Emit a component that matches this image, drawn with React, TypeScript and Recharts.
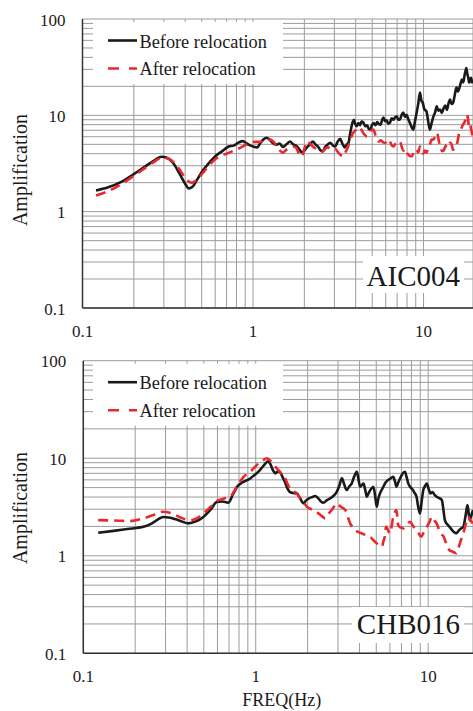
import { LineChart, Line, XAxis, YAxis, CartesianGrid } from 'recharts';

type Pt = [number, number];

// [frequency Hz, amplification]
const aicBefore: Pt[] = [
  [0.12, 1.66], [0.14, 1.78], [0.17, 2.05], [0.2, 2.45], [0.23, 2.9], [0.26, 3.35], [0.29, 3.72],
  [0.31, 3.65], [0.34, 3.2], [0.37, 2.5], [0.4, 1.95], [0.42, 1.74], [0.44, 1.8], [0.47, 2.15],
  [0.51, 2.7], [0.56, 3.3], [0.6, 3.75], [0.66, 4.25], [0.72, 4.75], [0.77, 4.85], [0.82, 5.2],
  [0.87, 5.4], [0.92, 5.1], [0.97, 4.85], [1.02, 4.7], [1.06, 4.65], [1.1, 5.1], [1.15, 5.6],
  [1.2, 5.85], [1.25, 5.6], [1.3, 5.2], [1.37, 4.95], [1.43, 5.1], [1.5, 4.7], [1.57, 5.0],
  [1.65, 5.35], [1.72, 5.0], [1.79, 4.85], [1.86, 4.5], [1.94, 4.1], [2.0, 4.3], [2.08, 4.7],
  [2.16, 5.0], [2.24, 5.35], [2.32, 5.0], [2.4, 4.75], [2.5, 4.3], [2.57, 4.25], [2.65, 4.7],
  [2.73, 4.95], [2.83, 5.2], [2.93, 4.9], [3.03, 4.75], [3.13, 5.3], [3.24, 5.7], [3.34, 5.1],
  [3.45, 4.65], [3.55, 5.0], [3.63, 5.2], [3.72, 6.6], [3.83, 8.4], [3.9, 9.0], [3.98, 8.1],
  [4.06, 7.7], [4.15, 8.3], [4.24, 7.9], [4.33, 8.6], [4.44, 8.4], [4.55, 7.7], [4.67, 7.9],
  [4.78, 7.2], [4.88, 7.1], [4.98, 7.9], [5.1, 8.3], [5.22, 7.9], [5.35, 8.5], [5.47, 8.1],
  [5.6, 8.0], [5.72, 9.0], [5.82, 9.5], [5.95, 8.7], [6.08, 8.9], [6.2, 8.2], [6.35, 8.4],
  [6.5, 9.3], [6.65, 9.0], [6.8, 9.5], [6.97, 9.8], [7.1, 9.0], [7.28, 9.1], [7.45, 10.2],
  [7.6, 10.7], [7.78, 9.6], [7.95, 10.1], [8.1, 9.3], [8.3, 8.4], [8.5, 7.6], [8.7, 7.1],
  [8.9, 8.6], [9.1, 10.6], [9.3, 13.0], [9.53, 17.2], [9.72, 14.2], [9.9, 13.5], [10.1, 11.6],
  [10.4, 11.0], [10.65, 8.6], [10.9, 7.1], [11.15, 8.3], [11.4, 9.6], [11.7, 10.8], [11.95, 12.4],
  [12.2, 11.2], [12.5, 11.5], [12.8, 10.6], [13.1, 11.8], [13.4, 12.6], [13.7, 11.4], [14.0, 13.2],
  [14.3, 14.6], [14.6, 13.1], [14.9, 13.5], [15.2, 15.8], [15.6, 19.5], [15.9, 17.6], [16.2, 19.0],
  [16.5, 21.5], [16.8, 23.5], [17.1, 22.0], [17.4, 26.0], [17.6, 28.5], [17.8, 31.0], [18.05, 27.0],
  [18.3, 24.5], [18.5, 21.9], [18.75, 23.0], [19.0, 24.5], [19.25, 22.0], [19.5, 23.5],
];

const aicAfter: Pt[] = [
  [0.12, 1.47], [0.14, 1.62], [0.17, 1.95], [0.2, 2.35], [0.23, 2.8], [0.26, 3.25], [0.29, 3.6],
  [0.31, 3.6], [0.34, 3.3], [0.37, 2.75], [0.4, 2.25], [0.42, 2.05], [0.44, 2.0], [0.47, 2.15],
  [0.51, 2.55], [0.56, 3.1], [0.6, 3.5], [0.66, 3.85], [0.7, 4.0], [0.76, 4.25], [0.8, 4.4],
  [0.84, 4.6], [0.9, 4.9], [0.96, 5.2], [1.03, 5.3], [1.1, 5.3], [1.17, 5.5], [1.26, 5.6],
  [1.32, 5.3], [1.38, 4.8], [1.44, 4.3], [1.5, 4.1], [1.57, 4.4], [1.65, 4.6], [1.72, 4.75],
  [1.79, 4.6], [1.86, 4.0], [1.93, 3.75], [2.0, 4.5], [2.06, 5.35], [2.13, 5.2], [2.2, 4.9],
  [2.3, 4.6], [2.39, 4.5], [2.48, 4.3], [2.56, 4.2], [2.65, 4.5], [2.74, 4.65], [2.83, 4.55],
  [2.93, 4.4], [3.03, 4.5], [3.13, 4.2], [3.25, 3.9], [3.4, 3.75], [3.5, 4.2], [3.61, 4.75],
  [3.72, 5.6], [3.87, 6.6], [4.0, 7.0], [4.12, 7.5], [4.24, 7.4], [4.36, 6.9], [4.5, 6.3],
  [4.67, 6.05], [4.82, 6.6], [4.95, 7.0], [5.08, 7.1], [5.2, 6.4], [5.33, 5.6], [5.45, 5.35],
  [5.6, 5.5], [5.75, 5.3], [5.88, 5.2], [6.0, 5.2], [6.15, 5.0], [6.32, 5.4], [6.5, 4.9],
  [6.65, 4.75], [6.8, 5.0], [6.97, 5.2], [7.12, 5.4], [7.28, 5.35], [7.45, 4.7], [7.62, 4.3],
  [7.8, 4.5], [7.97, 4.1], [8.15, 3.9], [8.32, 3.8], [8.5, 3.75], [8.7, 4.0], [8.9, 4.4],
  [9.1, 4.4], [9.3, 4.1], [9.53, 4.75], [9.75, 4.3], [9.95, 4.0], [10.15, 4.3], [10.4, 4.1],
  [10.65, 4.6], [10.9, 5.0], [11.15, 5.6], [11.4, 5.6], [11.7, 6.0], [12.0, 6.6], [12.3, 5.4],
  [12.6, 4.6], [12.85, 4.25], [13.1, 4.3], [13.4, 4.7], [13.7, 5.0], [14.0, 4.8], [14.3, 5.2],
  [14.6, 5.0], [14.9, 4.4], [15.2, 4.6], [15.6, 4.8], [15.9, 5.6], [16.2, 6.6], [16.5, 7.0],
  [16.8, 7.6], [17.1, 8.1], [17.4, 8.5], [17.7, 9.2], [18.0, 10.2], [18.25, 9.0], [18.5, 7.7],
  [18.75, 8.2], [19.0, 7.2], [19.25, 6.5], [19.5, 6.05],
];

const chbBefore: Pt[] = [
  [0.122, 1.72], [0.15, 1.8], [0.18, 1.88], [0.223, 1.98], [0.25, 2.15], [0.27, 2.35], [0.291, 2.5],
  [0.32, 2.45], [0.36, 2.3], [0.406, 2.15], [0.45, 2.25], [0.497, 2.5], [0.55, 3.0], [0.594, 3.55],
  [0.64, 3.6], [0.693, 3.5], [0.74, 4.3], [0.78, 5.1], [0.83, 5.6], [0.88, 5.9], [0.93, 6.2],
  [0.98, 6.7], [1.03, 7.2], [1.08, 7.9], [1.13, 8.7], [1.18, 9.3], [1.22, 8.6], [1.26, 7.5],
  [1.3, 7.0], [1.34, 7.3], [1.38, 7.26], [1.42, 6.6], [1.47, 5.8], [1.52, 5.0], [1.58, 4.5],
  [1.65, 4.4], [1.73, 4.36], [1.8, 3.95], [1.89, 3.45], [1.96, 3.7], [2.05, 3.9], [2.13, 4.0],
  [2.21, 4.1], [2.3, 3.9], [2.39, 3.6], [2.47, 3.49], [2.58, 3.7], [2.7, 3.87], [2.82, 4.1],
  [2.95, 4.53], [3.05, 5.2], [3.16, 6.22], [3.26, 5.4], [3.37, 4.72], [3.5, 5.2], [3.6, 5.5],
  [3.7, 6.3], [3.86, 7.26], [3.95, 6.0], [4.03, 5.1], [4.12, 5.3], [4.22, 5.5], [4.32, 4.7],
  [4.41, 4.03], [4.52, 4.4], [4.65, 4.8], [4.81, 5.1], [4.92, 4.2], [5.03, 3.18], [5.15, 3.9],
  [5.3, 4.5], [5.5, 5.1], [5.65, 5.6], [5.86, 5.98], [6.05, 6.2], [6.28, 6.45], [6.42, 5.8],
  [6.55, 5.1], [6.7, 5.6], [6.87, 6.2], [7.05, 6.8], [7.33, 7.26], [7.5, 6.4], [7.65, 5.6],
  [7.85, 5.1], [8.1, 4.8], [8.35, 4.4], [8.56, 4.03], [8.75, 3.2], [8.97, 2.72], [9.15, 3.5],
  [9.37, 4.72], [9.6, 5.2], [9.82, 5.5], [10.05, 4.9], [10.3, 4.36], [10.6, 4.5], [10.9, 4.2],
  [11.2, 4.03], [11.6, 3.9], [12.0, 3.73], [12.25, 3.0], [12.5, 2.32], [12.9, 2.1], [13.3, 1.98],
  [13.7, 1.85], [14.1, 1.75], [14.6, 1.7], [15.0, 1.8], [15.5, 1.9], [16.0, 1.98], [16.5, 2.6],
  [16.9, 3.31], [17.2, 2.7], [17.4, 2.32], [17.8, 2.6], [18.2, 2.94],
];

const chbAfter: Pt[] = [
  [0.122, 2.32], [0.15, 2.3], [0.187, 2.27], [0.22, 2.4], [0.26, 2.65], [0.291, 2.83], [0.33, 2.7],
  [0.37, 2.45], [0.416, 2.32], [0.46, 2.45], [0.497, 2.72], [0.55, 3.2], [0.594, 3.64], [0.65, 3.85],
  [0.71, 4.03], [0.776, 5.1], [0.85, 6.45], [0.93, 7.26], [0.98, 8.0], [1.04, 8.87], [1.1, 9.5],
  [1.16, 9.98], [1.23, 9.2], [1.29, 8.3], [1.35, 7.6], [1.41, 6.9], [1.47, 6.45], [1.52, 5.6],
  [1.58, 4.9], [1.65, 4.6], [1.73, 4.36], [1.81, 3.87], [1.9, 3.5], [1.98, 3.18], [2.1, 3.0],
  [2.2, 2.9], [2.31, 2.72], [2.42, 2.55], [2.53, 2.42], [2.65, 2.7], [2.8, 3.06], [2.95, 3.45],
  [3.1, 3.2], [3.31, 2.94], [3.42, 2.5], [3.53, 2.15], [3.65, 1.95], [3.77, 1.83], [3.95, 1.75],
  [4.1, 1.7], [4.35, 1.63], [4.6, 1.57], [4.8, 1.45], [5.03, 1.34], [5.2, 1.28], [5.4, 1.24],
  [5.5, 1.4], [5.6, 1.57], [5.7, 1.98], [6.0, 1.7], [6.28, 2.51], [6.55, 2.94], [6.7, 2.06],
  [6.9, 1.95], [7.17, 1.91], [7.5, 2.05], [7.85, 2.23], [8.2, 2.0], [8.56, 1.83], [8.8, 1.7],
  [9.1, 1.57], [9.45, 1.75], [9.82, 1.98], [10.15, 2.2], [10.5, 2.51], [10.85, 2.3], [11.2, 2.15],
  [11.5, 1.9], [11.8, 1.7], [12.3, 1.57], [12.8, 1.3], [13.3, 1.14], [13.9, 1.1], [14.6, 1.06],
  [15.0, 1.2], [15.5, 1.45], [16.0, 1.7], [16.5, 2.1], [17.1, 2.51], [17.6, 2.3], [18.2, 2.15],
];

const freqTicks = [0.1, 0.2, 0.3, 0.4, 0.5, 0.6, 0.7, 0.8, 0.9, 1, 2, 3, 4, 5, 6, 7, 8, 9, 10];
const ampTicks = [
  0.1, 0.2, 0.3, 0.4, 0.5, 0.6, 0.7, 0.8, 0.9,
  1, 2, 3, 4, 5, 6, 7, 8, 9,
  10, 20, 30, 40, 50, 60, 70, 80, 90, 100,
];
const freqLabels = [0.1, 1, 10];
const ampLabels = [0.1, 1, 10, 100];
const seriesNames = ['Before relocation', 'After relocation'];

const SERIF = '"Liberation Serif", "Times New Roman", serif';
const INK = '#1a1a1a';
const RED = '#e8282d';
const GRID = '#9c9c9c';
const AXIS = '#333333';
const PAGE_W = 473;

const toRows = (pts: Pt[]) => pts.map(([freq, amp]) => ({ freq, amp }));

function FreqTick({ x, y, payload }: any) {
  if (!freqLabels.includes(payload.value)) return <g />;
  return (
    <text x={x} y={y + 28.5} textAnchor="middle" fontFamily={SERIF} fontSize={17} fill={INK}>
      {payload.value}
    </text>
  );
}

function AmpTick({ x, y, payload }: any) {
  if (!ampLabels.includes(payload.value)) return <g />;
  return (
    <text x={x - 17} y={y + 6.5} textAnchor="end" fontFamily={SERIF} fontSize={17} fill={INK}>
      {payload.value}
    </text>
  );
}

interface PanelProps {
  top: number;
  height: number;
  plotTop: number;
  plotBottom: number;
  plotLeft: number;
  maxFreq: number;
  before: Pt[];
  after: Pt[];
  station: string;
  stationBox: { x: number; y: number; w: number; h: number; baseline: number };
  titleCenter: number;
  xTitle?: string;
}

function Panel(p: PanelProps) {
  return (
    <div style={{ position: 'absolute', left: 0, top: p.top, width: PAGE_W, height: p.height }}>
      <LineChart
        width={PAGE_W}
        height={p.height}
        margin={{ top: p.plotTop, right: 0, bottom: 0, left: 0 }}
      >
        <CartesianGrid stroke={GRID} strokeWidth={1} />
        <XAxis
          dataKey="freq"
          type="number"
          scale="log"
          domain={[0.1, p.maxFreq]}
          allowDataOverflow
          ticks={freqTicks}
          interval={0}
          height={p.height - p.plotBottom}
          tickLine={false}
          tickSize={0}
          tickMargin={0}
          axisLine={{ stroke: AXIS, strokeWidth: 1.5 }}
          tick={FreqTick}
        />
        <YAxis
          type="number"
          scale="log"
          domain={[0.1, 100]}
          allowDataOverflow
          ticks={ampTicks}
          interval={0}
          width={p.plotLeft}
          tickLine={false}
          tickSize={0}
          tickMargin={0}
          axisLine={{ stroke: AXIS, strokeWidth: 1.5 }}
          tick={AmpTick}
        />
        <Line
          data={toRows(p.before)}
          dataKey="amp"
          type="monotone"
          stroke={INK}
          strokeWidth={2.6}
          dot={false}
          isAnimationActive={false}
        />
        <Line
          data={toRows(p.after)}
          dataKey="amp"
          type="monotone"
          stroke={RED}
          strokeWidth={2.6}
          strokeDasharray="10 6"
          dot={false}
          isAnimationActive={false}
        />
      </LineChart>

      {/* legend, station tag and axis titles sit on top of the grid */}
      <svg
        width={PAGE_W}
        height={p.height}
        style={{ position: 'absolute', left: 0, top: 0, pointerEvents: 'none' }}
      >
        <rect x={93} y={p.plotTop + 3} width={190} height={62} fill="#fff" />
        <line x1={108} x2={137} y1={p.plotTop + 21.5} y2={p.plotTop + 21.5} stroke={INK} strokeWidth={2.6} />
        <line
          x1={108}
          x2={137}
          y1={p.plotTop + 49.5}
          y2={p.plotTop + 49.5}
          stroke={RED}
          strokeWidth={2.6}
          strokeDasharray="11 10"
        />
        <text x={139.5} y={p.plotTop + 28.5} fontFamily={SERIF} fontSize={18.3} fill={INK}>
          {seriesNames[0]}
        </text>
        <text x={139.5} y={p.plotTop + 56} fontFamily={SERIF} fontSize={18.3} fill={INK}>
          {seriesNames[1]}
        </text>

        <rect x={p.stationBox.x} y={p.stationBox.y} width={p.stationBox.w} height={p.stationBox.h} fill="#fff" />
        <text
          x={460}
          y={p.stationBox.baseline}
          textAnchor="end"
          fontFamily={SERIF}
          fontSize={29}
          fill={INK}
        >
          {p.station}
        </text>

        <text
          x={26.5}
          y={p.titleCenter}
          transform={`rotate(-90, 26.5, ${p.titleCenter})`}
          textAnchor="middle"
          fontFamily={SERIF}
          fontSize={20}
          fill={INK}
        >
          Amplification
        </text>
        {p.xTitle && (
          <text x={281.7} y={p.height - 5} textAnchor="middle" fontFamily={SERIF} fontSize={18} fill={INK}>
            {p.xTitle}
          </text>
        )}
      </svg>
    </div>
  );
}

export default function App() {
  return (
    <div
      style={{
        position: 'absolute',
        left: 0,
        top: 0,
        width: PAGE_W,
        height: 711,
        overflow: 'hidden',
        background: '#fff',
      }}
    >
      <Panel
        top={0}
        height={340}
        plotTop={19}
        plotBottom={308}
        plotLeft={82.5}
        maxFreq={19.5}
        before={aicBefore}
        after={aicAfter}
        station="AIC004"
        stationBox={{ x: 363, y: 256, w: 101, h: 37, baseline: 286 }}
        titleCenter={170}
      />
      <Panel
        top={340}
        height={371}
        plotTop={20.7}
        plotBottom={313.3}
        plotLeft={83.3}
        maxFreq={18.2}
        before={chbBefore}
        after={chbAfter}
        station="CHB016"
        stationBox={{ x: 352, y: 267, w: 112, h: 36, baseline: 293.5 }}
        titleCenter={168}
        xTitle="FREQ(Hz)"
      />
    </div>
  );
}
